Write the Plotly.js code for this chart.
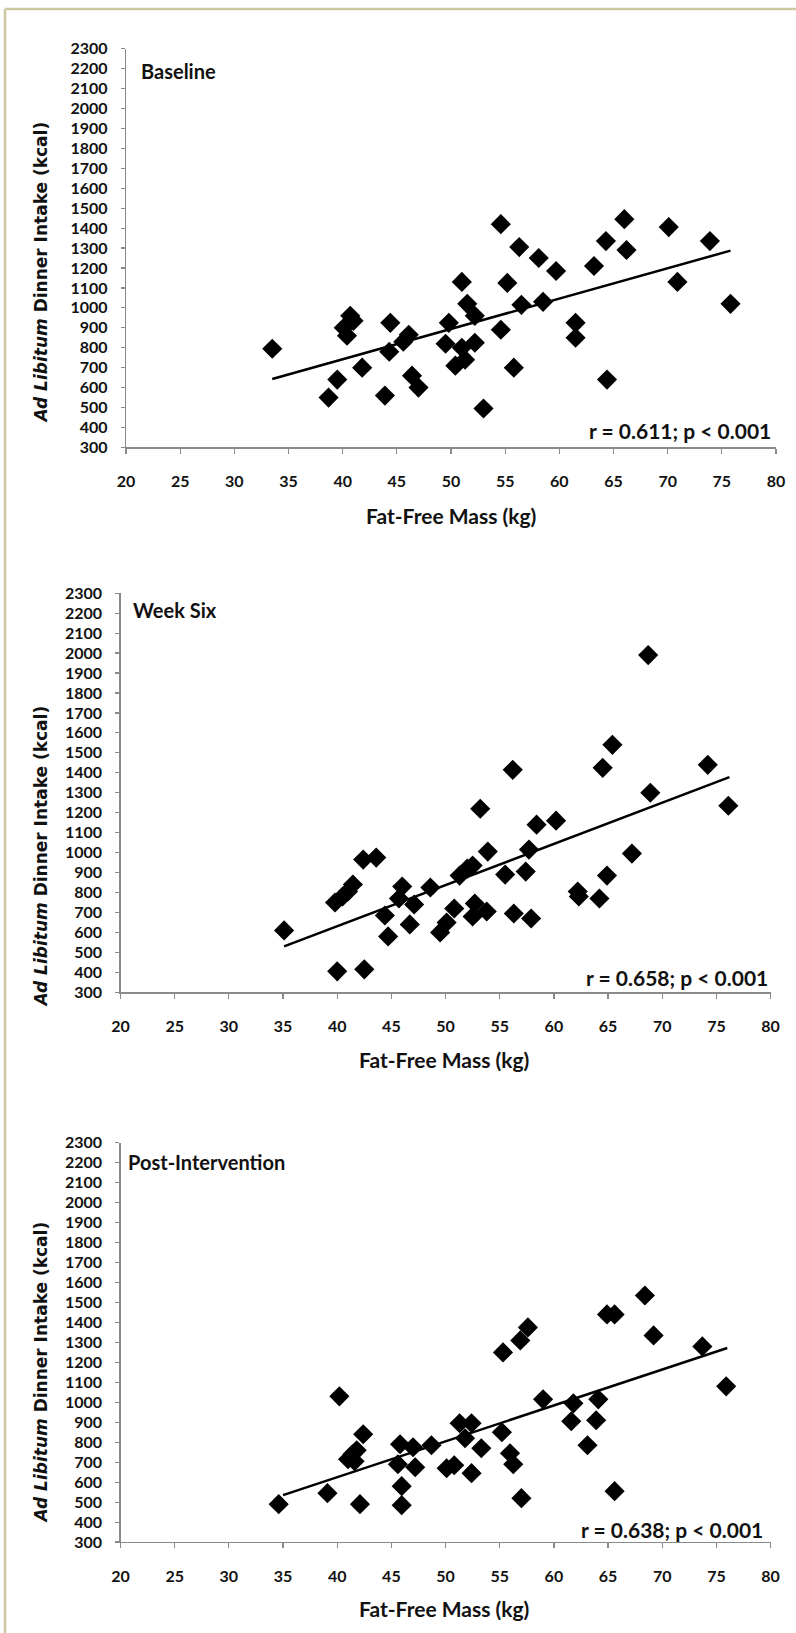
<!DOCTYPE html>
<html>
<head>
<meta charset="utf-8">
<script src="https://cdn.plot.ly/plotly-3.0.1.min.js"></script>
<style>
  html, body { margin: 0; padding: 0; background: #ffffff; }
  #chart { width: 796px; height: 1633px; }
</style>
</head>
<body>
<div id="chart"></div>
<script>
// ---------- data ----------
const xTicks = [20, 25, 30, 35, 40, 45, 50, 55, 60, 65, 70, 75, 80];
const yTicks = [300, 400, 500, 600, 700, 800, 900, 1000, 1100, 1200, 1300, 1400, 1500, 1600, 1700, 1800, 1900, 2000, 2100, 2200, 2300];

const panelNames = ["Baseline", "Week Six", "Post-Intervention"];
const panelStats = ["r = 0.611; p < 0.001", "r = 0.658; p < 0.001", "r = 0.638; p < 0.001"];

const baseFFM  = [33.5,38.7,39.5,40.7,41.0,40.1,40.4,41.8,43.9,44.4,44.3,46.1,45.6,46.4,47.0,49.8,49.5,50.4,51.3,51.0,52.2,51.0,51.5,52.2,53.0,54.6,55.2,54.6,55.8,56.3,56.5,58.1,58.5,59.7,61.5,61.5,64.4,63.2,64.3,66.0,66.2,70.1,70.9,73.9,75.8];
const baseKcal = [795,550,640,960,935,900,860,700,560,925,780,865,830,660,600,925,820,710,740,800,825,1130,1020,960,495,1420,1125,890,700,1305,1015,1250,1030,1185,925,850,640,1210,1335,1445,1290,1405,1130,1335,1020];
const baseFitX = [33.5, 75.8];
const baseFitY = [643, 1287];

const w6FFM  = [35.1,40.0,42.5,39.8,40.5,41.0,41.45,42.4,43.6,44.4,44.7,45.7,46.0,46.7,47.1,48.6,49.5,50.1,50.8,51.3,52.0,52.5,52.5,52.7,53.2,53.8,53.9,55.5,56.2,56.3,57.4,57.9,57.7,58.4,60.2,62.2,62.3,64.2,64.9,64.5,65.4,67.2,68.7,68.9,74.2,76.1];
const w6Kcal = [610,405,415,750,780,805,840,965,975,685,580,770,830,640,740,825,600,650,720,885,920,935,680,745,1220,705,1005,890,1415,695,905,670,1015,1140,1160,805,780,770,885,1425,1540,995,1990,1300,1440,1235];
const w6FitX = [35.1, 76.2];
const w6FitY = [530, 1378];

const postFFM  = [34.6,39.1,40.2,41.0,41.4,41.8,41.6,42.1,42.4,45.8,45.6,45.95,45.95,47.0,47.2,48.7,50.1,50.8,51.3,52.4,51.8,52.4,53.3,55.2,55.3,55.95,56.25,57.0,56.9,57.6,59.0,61.8,61.6,63.1,64.1,63.9,64.9,65.6,65.6,68.4,69.2,73.7,75.9];
const postKcal = [490,545,1030,715,740,760,705,490,840,790,690,580,485,775,675,785,670,685,895,895,820,645,770,850,1250,745,690,520,1310,1375,1015,995,905,785,1015,910,1440,1440,555,1535,1335,1280,1080];
const postFitX = [35.0, 76.0];
const postFitY = [535, 1272];

const xTitle = "Fat-Free Mass (kg)";
const yTitle = "<i>Ad Libitum</i> Dinner Intake (kcal)";

// ---------- layout helpers ----------
const W = 796, H = 1633;
const px = v => v / W;
const py = v => 1 - v / H;

const panels = [
  { xs: baseFFM, ys: baseKcal, fx: baseFitX, fy: baseFitY, x0: 126, x1: 776, yTop: 48.7, yBot: 447.4,
    nameX: 139, nameY: 71, statX: 773, statY: 430, yTitleY: 273, xTitleX: 451, xTitleY: 515 },
  { xs: w6FFM, ys: w6Kcal, fx: w6FitX, fy: w6FitY, x0: 120.5, x1: 770.6, yTop: 593.2, yBot: 992.3,
    nameX: 131, nameY: 610, statX: 770, statY: 977, yTitleY: 857, xTitleX: 444, xTitleY: 1059 },
  { xs: postFFM, ys: postKcal, fx: postFitX, fy: postFitY, x0: 120.5, x1: 770.6, yTop: 1142.7, yBot: 1542.1,
    nameX: 126, nameY: 1162, statX: 765, statY: 1529, yTitleY: 1373, xTitleX: 444, xTitleY: 1608 }
];

const tickFont = { family: "Lato, 'Open Sans', sans-serif", size: 16, color: "#111111", weight: 700 };
const axisColor = "#8a8a8a";

const traces = [];
const layout = {
  width: W, height: H,
  margin: { l: 0, r: 0, t: 0, b: 0 },
  paper_bgcolor: "#ffffff",
  plot_bgcolor: "#ffffff",
  showlegend: false,
  annotations: [],
  shapes: [
    { type: "line", xref: "paper", yref: "paper", x0: px(5), x1: 1, y0: py(9), y1: py(9),
      line: { color: "#cdc6a2", width: 2.5 } },
    { type: "line", xref: "paper", yref: "paper", x0: px(5), x1: px(5), y0: py(9), y1: 0,
      line: { color: "#cdc6a2", width: 2.5 } }
  ]
};

panels.forEach((p, i) => {
  const n = i === 0 ? "" : String(i + 1);
  const xa = "x" + n, ya = "y" + n;
  traces.push({
    type: "scatter", mode: "markers", x: p.xs, y: p.ys, xaxis: xa, yaxis: ya,
    marker: { symbol: "diamond", size: 15.5, color: "#000000", line: { width: 0 } },
    hoverinfo: "x+y"
  });
  traces.push({
    type: "scatter", mode: "lines", x: p.fx, y: p.fy, xaxis: xa, yaxis: ya,
    line: { color: "#000000", width: 2.5 }, hoverinfo: "skip"
  });
  layout["xaxis" + n] = {
    domain: [px(p.x0), px(p.x1)], anchor: ya, range: [20, 80],
    tickmode: "array", tickvals: xTicks, ticktext: xTicks.map(String),
    showgrid: false, zeroline: false, showline: true, linecolor: axisColor, linewidth: 1.2,
    ticks: "outside", ticklen: 5, tickcolor: axisColor, tickwidth: 1.2,
    tickfont: tickFont, ticklabelstandoff: 14, fixedrange: true
  };
  layout["yaxis" + n] = {
    domain: [py(p.yBot), py(p.yTop)], anchor: xa, range: [300, 2300],
    tickmode: "array", tickvals: yTicks, ticktext: yTicks.map(String),
    showgrid: false, zeroline: false, showline: true, linecolor: axisColor, linewidth: 1.2,
    ticks: "outside", ticklen: 4, tickcolor: axisColor, tickwidth: 1.2,
    tickfont: tickFont, ticklabelstandoff: 10, fixedrange: true
  };
  layout.annotations.push(
    { xref: "paper", yref: "paper", x: px(p.nameX), y: py(p.nameY), xanchor: "left", yanchor: "middle",
      text: panelNames[i], showarrow: false,
      font: { family: "Lato, 'Open Sans', sans-serif", size: 20, color: "#111111", weight: 700 } },
    { xref: "paper", yref: "paper", x: px(p.statX), y: py(p.statY), xanchor: "right", yanchor: "middle",
      text: panelStats[i], showarrow: false,
      font: { family: "Lato, 'Open Sans', sans-serif", size: 21, color: "#111111", weight: 700 } },
    { xref: "paper", yref: "paper", x: px(p.xTitleX), y: py(p.xTitleY), xanchor: "center", yanchor: "middle",
      text: xTitle, showarrow: false,
      font: { family: "Lato, 'Open Sans', sans-serif", size: 21, color: "#111111", weight: 700 } },
    { xref: "paper", yref: "paper", x: px(40.6), y: py(p.yTitleY), xanchor: "center", yanchor: "middle",
      text: yTitle, textangle: -90, showarrow: false,
      font: { family: "'DejaVu Sans', Verdana, sans-serif", size: 17, color: "#111111", weight: 700 } }
  );
});

Plotly.newPlot("chart", traces, layout, { displayModeBar: false, staticPlot: true });
</script>
</body>
</html>
